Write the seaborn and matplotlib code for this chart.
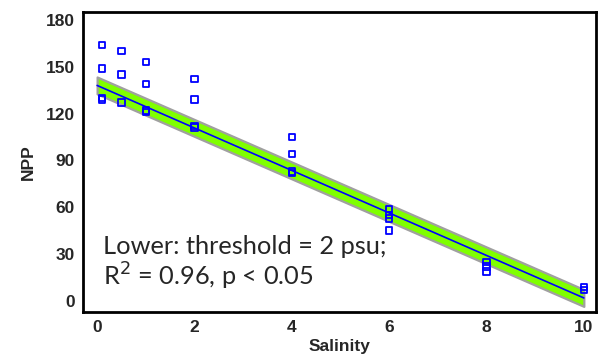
import matplotlib
matplotlib.use("Agg")
import matplotlib.pyplot as plt
import seaborn as sns
import pandas as pd
import numpy as np

salinity = [0.1, 0.1, 0.1, 0.1, 0.5, 0.5, 0.5, 1, 1, 1, 1, 2, 2, 2, 2,
            4, 4, 4, 4, 6, 6, 6, 6, 8, 8, 8, 10, 10]
npp = [164, 149, 130, 129, 160, 145, 127, 153, 139, 122, 121, 142, 129, 112, 111,
       105, 94, 83, 82, 59, 55, 53, 45, 25, 22, 19, 9, 7]
fit_x = [0, 10]
fit_y = [138, 2]
x_ticks = [0, 2, 4, 6, 8, 10]
y_ticks = [0, 30, 60, 90, 120, 150, 180]

df = pd.DataFrame({"Salinity": salinity, "NPP": npp})
fit = pd.DataFrame({"Salinity": fit_x, "NPP": fit_y})

sns.set_style("white")
plt.rcParams["font.family"] = ["Liberation Sans", "DejaVu Sans"]

fig = plt.figure(figsize=(6.12, 3.58), dpi=100)
ax = fig.add_axes([83 / 612, 1 - 312 / 358, (596 - 83) / 612, (312 - 12) / 358])

# green band with grey edge around the fit line
half = 5.4
fx = np.array(fit_x, dtype=float)
fy = np.array(fit_y, dtype=float)
ax.fill_between(fx, fy - half, fy + half, facecolor="#7FFF00", edgecolor="#A0A0A0",
                linewidth=1.6, zorder=2)
# thin blue fit line
sns.lineplot(data=fit, x="Salinity", y="NPP", ax=ax, color="#0000FF", lw=1.2, zorder=3)
sns.scatterplot(data=df, x="Salinity", y="NPP", ax=ax, marker="s", s=22,
                facecolor="none", edgecolor="#0000FF", linewidth=1.3, zorder=4)

ax.set_xlim(-0.29, 10.25)
ax.set_ylim(-7, 185)
ax.set_xticks(x_ticks)
ax.set_yticks(y_ticks)
ax.tick_params(axis="both", length=0, labelsize=12.5, pad=6)
for lab in ax.get_xticklabels() + ax.get_yticklabels():
    lab.set_fontweight("bold")
ax.set_xlabel("Salinity", fontsize=12.5, fontweight="bold", labelpad=3)
ax.set_ylabel("NPP", fontsize=12.5, fontweight="bold", labelpad=7)
for s in ax.spines.values():
    s.set_visible(True)
    s.set_color("black")
    s.set_linewidth(2)

ax.text(0.13, 30, "Lower: threshold = 2 psu;", fontsize=18.3, family=["Lato", "DejaVu Sans"],
        ha="left", va="baseline")
ax.text(0.13, 10, "R$^2$ = 0.96, p < 0.05", fontsize=18.3, family=["Lato", "DejaVu Sans"],
        ha="left", va="baseline")

fig.savefig("out.png", dpi=100)
